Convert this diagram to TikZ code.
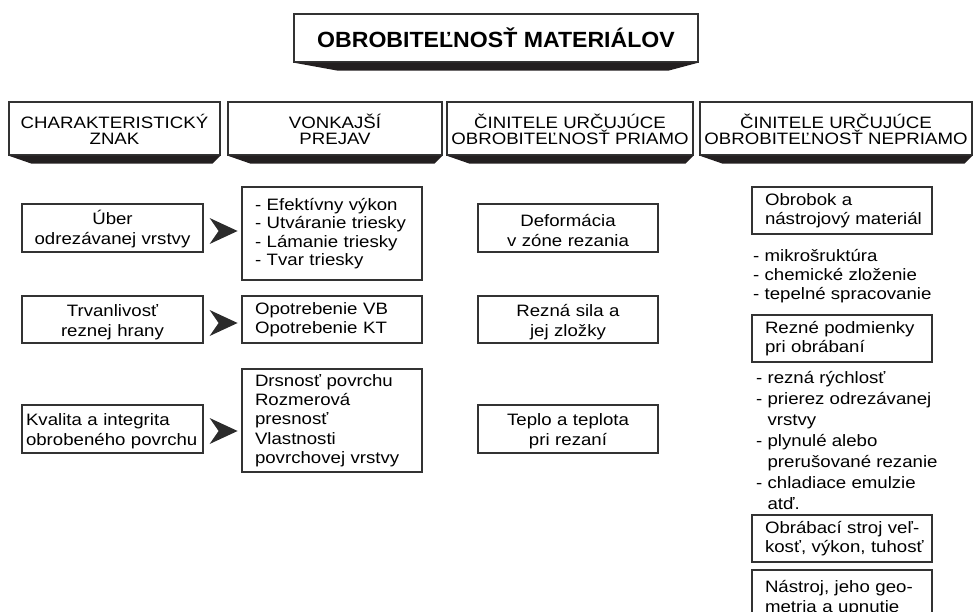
\documentclass[tikz,border=0pt]{standalone}
\usepackage{fontspec}
\setmainfont{Liberation Sans}[FakeStretch=1.13]
\newfontfamily\titlefont{Liberation Sans}[FakeStretch=1.05]
\usetikzlibrary{calc}
\definecolor{edge}{HTML}{333333}
\definecolor{shadowfill}{HTML}{231F20}
\definecolor{chevfill}{HTML}{2B2B2B}
\begin{document}
\begin{tikzpicture}[x=1pt,y=-1pt,
  every node/.style={font=\fontsize{16.5}{20}\selectfont},
  box/.style={draw=edge, line width=1.2pt, fill=white, inner ysep=0pt},
  head/.style={box, align=center, inner xsep=0pt,
    font=\fontsize{16.5}{15.5}\selectfont},
  ctr/.style={box, align=center, inner xsep=4pt, text width=#1-8pt, minimum width=#1},
  lft/.style={box, align=left, inner xsep=0pt, text width=#1, minimum width=#1,
    execute at begin node={\leftskip=13pt\relax}},
  list/.style={align=left, inner sep=0pt, anchor=north west},
  chev/.style={fill=chevfill},
  tab/.style={fill=shadowfill}
]
\useasboundingbox (0,0) rectangle (977,612);

% title
\node[head, minimum width=404pt, minimum height=48pt,
  font=\titlefont\bfseries\fontsize{22}{24}\selectfont] (title) at (496,38)
  {\raisebox{-3pt}{OBROBITEĽNOSŤ MATERIÁLOV}};
\fill[tab] (title.south west) -- (title.south east) -- ++(-30,8)
  -- ($(title.south west)+(44,8)$) -- cycle;

% column headers
\node[head, minimum width=211pt, minimum height=53pt] (h1) at (114.5,128.5)
  {\rule{0pt}{16pt}CHARAKTERISTICKÝ\\ZNAK};
\node[head, minimum width=214pt, minimum height=53pt] (h2) at (335,128.5)
  {\rule{0pt}{16pt}VONKAJŠÍ\\PREJAV};
\node[head, minimum width=246pt, minimum height=53pt] (h3) at (570,128.5)
  {\rule{0pt}{16pt}ČINITELE URČUJÚCE\\OBROBITEĽNOSŤ PRIAMO};
\node[head, minimum width=272pt, minimum height=53pt] (h4) at (836,128.5)
  {\rule{0pt}{16pt}ČINITELE URČUJÚCE\\OBROBITEĽNOSŤ NEPRIAMO};
\foreach \h in {h1,h2,h3,h4}
  \fill[tab] (\h.south west) -- (\h.south east) -- ++(-8,8)
    -- ($(\h.south west)+(23,8)$) -- cycle;

% characteristic sign
\node[ctr=181pt, minimum height=48pt] (c1) at (112.5,228)
  {\rule{0pt}{17pt}Úber\\odrezávanej vrstvy};
\node[ctr=181pt, minimum height=47pt] (c2) at (112.5,319.5)
  {\rule{0pt}{17pt}Trvanlivosť\\reznej hrany};
\node[box, align=left, inner xsep=4pt, text width=173pt, minimum width=181pt,
  minimum height=48pt] (c3) at (112.5,429)
  {\rule{0pt}{17pt}Kvalita a integrita\\obrobeného povrchu};

% external manifestation
\node[lft=180pt, minimum height=93pt, font=\fontsize{16.5}{18.3}\selectfont] (e1)
  at (332,233.5)
  {- Efektívny výkon\\- Utváranie triesky\\- Lámanie triesky\\- Tvar triesky};
\node[lft=180pt, minimum height=47pt, font=\fontsize{16.5}{19}\selectfont] (e2)
  at (332,319.5)
  {Opotrebenie VB\\Opotrebenie KT};
\node[lft=180pt, minimum height=103pt, font=\fontsize{16.5}{19.25}\selectfont] (e3)
  at (332,420.5)
  {Drsnosť povrchu\\Rozmerová\\presnosť\\Vlastnosti\\povrchovej vrstvy};

% chevrons between sign and manifestation
\foreach \a/\b/\dy in {c1/e1/3, c2/e2/3.5, c3/e3/2}
  \fill[chev] ($(\a.east)+(6,\dy-13)$) -- ($(\a.east)+(34,\dy)$)
    -- ($(\a.east)+(6,\dy+13)$) -- ($(\a.east)+(15,\dy)$) -- cycle;

% direct factors
\node[ctr=180pt, minimum height=48pt] (d1) at (568,228)
  {\rule{0pt}{17pt}Deformácia\\v zóne rezania};
\node[ctr=180pt, minimum height=47pt] (d2) at (568,319.5)
  {\rule{0pt}{17pt}Rezná sila a\\jej zložky};
\node[ctr=180pt, minimum height=48pt] (d3) at (568,429)
  {\rule{0pt}{17pt}Teplo a teplota\\pri rezaní};

% indirect factors
\node[lft=180pt, minimum height=47pt, font=\fontsize{16.5}{18.5}\selectfont] (n1)
  at (842,210.5)
  {Obrobok a\\nástrojový materiál};
\node[list, font=\fontsize{16.5}{19}\selectfont] (l1) at (753,249)
  {- mikrošruktúra\\- chemické zloženie\\- tepelné spracovanie};
\node[lft=180pt, minimum height=47pt, font=\fontsize{16.5}{18.5}\selectfont] (n2)
  at (842,338.5)
  {Rezné podmienky\\pri obrábaní};
\node[list, font=\fontsize{16.5}{21}\selectfont] (l2) at (756,371)
  {- rezná rýchlosť\\- prierez odrezávanej\\\phantom{- }vrstvy\\- plynulé alebo\\%
   \phantom{- }prerušované rezanie\\- chladiace emulzie\\\phantom{- }atď.};
\node[lft=180pt, minimum height=47pt, font=\fontsize{16.5}{19.5}\selectfont] (n3)
  at (842,538.5)
  {Obrábací stroj veľ-\\kosť, výkon, tuhosť};
\node[lft=180pt, minimum height=56pt, font=\fontsize{16.5}{19.5}\selectfont] (n4)
  at (842,598)
  {Nástroj, jeho geo-\\metria a upnutie};
\end{tikzpicture}
\end{document}
